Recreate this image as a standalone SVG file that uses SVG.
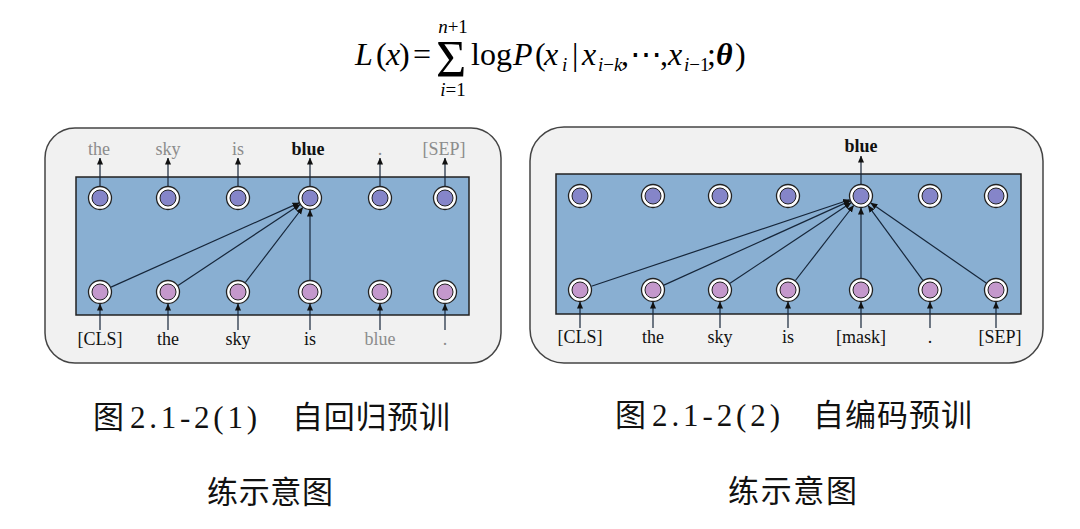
<svg xmlns="http://www.w3.org/2000/svg" width="1080" height="529" viewBox="0 0 1080 529">
<defs>
<marker id="ah" viewBox="0 0 8 8" refX="7.5" refY="4" markerWidth="7" markerHeight="7" markerUnits="userSpaceOnUse" orient="auto">
<path d="M0,0.5 L8,4 L0,7.5 Z" fill="#111"/>
</marker>
<style>
.panel{fill:#f1f1f1;stroke:#444;stroke-width:1.5}
.box{fill:#89afd2;stroke:#222;stroke-width:1.5}
.ring{fill:#fff;stroke:#222;stroke-width:1.3}
.top{fill:#8585c9;stroke:#222;stroke-width:1}
.bot{fill:#c498cc;stroke:#222;stroke-width:1}
.c{stroke:#16263a;stroke-width:1.2;fill:none;marker-end:url(#ah)}
.lab{font-family:"Liberation Serif",serif;font-size:18px;text-anchor:middle;fill:#111}
.g{fill:#8c8c8c}
.b{font-weight:bold}
.m text{font-family:"Liberation Serif",serif;fill:#000}
.f{font-size:32px}
.s{font-size:19px;font-style:italic}
.i{font-style:italic}
.cap{font-family:"Noto Sans CJK SC",sans-serif;font-size:31px;fill:#111}
.num{font-family:"Liberation Serif",serif;font-size:31px;fill:#111}
</style>
</defs>
<rect width="1080" height="529" fill="#fff"/>

<g id="formula" class="m">
<text class="f i" x="355" y="65">L</text>
<text class="f" x="376" y="65">(</text>
<text class="f i" x="386" y="65">x</text>
<text class="f" x="399" y="65">)</text>
<text class="f" x="413" y="65">=</text>
<text x="436" y="77" font-size="52">Σ</text>
<text class="s" x="453" y="33" font-size="17" text-anchor="middle">n<tspan font-style="normal">+1</tspan></text>
<text class="s" x="453" y="96" font-size="17" text-anchor="middle">i<tspan font-style="normal">=1</tspan></text>
<text class="f" x="471" y="65">log</text>
<text class="f i" x="513" y="65">P</text>
<text class="f" x="535" y="65">(</text>
<text class="f i" x="544" y="65">x</text>
<text class="s" x="562" y="71">i</text>
<text class="f" x="572" y="65">|</text>
<text class="f i" x="582" y="65">x</text>
<text class="s" x="598" y="71">i<tspan font-style="normal">−</tspan>k</text>
<text class="f" x="621" y="65">,</text>
<text class="f" x="630" y="65">⋯</text>
<text class="f" x="660" y="65">,</text>
<text class="f i" x="668" y="65">x</text>
<text class="s" x="684" y="71">i<tspan font-style="normal">−1</tspan></text>
<text class="f" x="707" y="65">;</text>
<text class="f i" x="716" y="65" font-weight="bold">θ</text>
<text class="f" x="735" y="65">)</text>
</g>

<g id="panel-left">
<rect class="panel" x="45" y="128" width="456" height="235" rx="30"/>
<rect class="box" x="76" y="177" width="393" height="138"/>
</g>

<g id="panel-right">
<rect class="panel" x="530" y="127" width="513" height="236" rx="34"/>
<rect class="box" x="556" y="174" width="465" height="140"/>
</g>

<g id="connectors">
<line class="c" x1="100" y1="186" x2="100" y2="158"/>
<line class="c" x1="168" y1="186" x2="168" y2="158"/>
<line class="c" x1="238" y1="186" x2="238" y2="158"/>
<line class="c" x1="310" y1="186" x2="310" y2="158"/>
<line class="c" x1="380" y1="186" x2="380" y2="158"/>
<line class="c" x1="445" y1="186" x2="445" y2="158"/>
<line class="c" x1="100" y1="330" x2="100" y2="304"/>
<line class="c" x1="168" y1="330" x2="168" y2="304"/>
<line class="c" x1="238" y1="330" x2="238" y2="304"/>
<line class="c" x1="310" y1="330" x2="310" y2="304"/>
<line class="c" x1="380" y1="330" x2="380" y2="304"/>
<line class="c" x1="445" y1="330" x2="445" y2="304"/>
<line class="c" x1="111" y1="287.1" x2="299.1" y2="202.9"/>
<line class="c" x1="178" y1="285.4" x2="300" y2="204.6"/>
<line class="c" x1="245.3" y1="282.5" x2="302.7" y2="207.5"/>
<line class="c" x1="310" y1="280" x2="310" y2="210"/>
<line class="c" x1="861" y1="184" x2="861" y2="156"/>
<line class="c" x1="580" y1="328" x2="580" y2="302"/>
<line class="c" x1="653" y1="328" x2="653" y2="302"/>
<line class="c" x1="720" y1="328" x2="720" y2="302"/>
<line class="c" x1="788" y1="328" x2="788" y2="302"/>
<line class="c" x1="861" y1="328" x2="861" y2="302"/>
<line class="c" x1="930" y1="328" x2="930" y2="302"/>
<line class="c" x1="996" y1="328" x2="996" y2="302"/>
<line class="c" x1="591.4" y1="286.2" x2="849.6" y2="199.8"/>
<line class="c" x1="663.9" y1="285.1" x2="850.1" y2="200.9"/>
<line class="c" x1="730" y1="283.3" x2="851" y2="202.7"/>
<line class="c" x1="795.4" y1="280.5" x2="853.6" y2="205.5"/>
<line class="c" x1="861" y1="278" x2="861" y2="208"/>
<line class="c" x1="922.9" y1="280.3" x2="868.1" y2="205.7"/>
<line class="c" x1="986.2" y1="283.1" x2="870.8" y2="202.9"/>
</g>

<g id="left-top-nodes">
<g id="lt1"><circle class="ring" cx="100" cy="198" r="11.5"/><circle class="top" cx="100" cy="198" r="8"/></g>
<g id="lt2"><circle class="ring" cx="168" cy="198" r="11.5"/><circle class="top" cx="168" cy="198" r="8"/></g>
<g id="lt3"><circle class="ring" cx="238" cy="198" r="11.5"/><circle class="top" cx="238" cy="198" r="8"/></g>
<g id="lt4"><circle class="ring" cx="310" cy="198" r="11.5"/><circle class="top" cx="310" cy="198" r="8"/></g>
<g id="lt5"><circle class="ring" cx="380" cy="198" r="11.5"/><circle class="top" cx="380" cy="198" r="8"/></g>
<g id="lt6"><circle class="ring" cx="445" cy="198" r="11.5"/><circle class="top" cx="445" cy="198" r="8"/></g>
</g>
<g id="left-bottom-nodes">
<g id="lb1"><circle class="ring" cx="100" cy="292" r="11.5"/><circle class="bot" cx="100" cy="292" r="8"/></g>
<g id="lb2"><circle class="ring" cx="168" cy="292" r="11.5"/><circle class="bot" cx="168" cy="292" r="8"/></g>
<g id="lb3"><circle class="ring" cx="238" cy="292" r="11.5"/><circle class="bot" cx="238" cy="292" r="8"/></g>
<g id="lb4"><circle class="ring" cx="310" cy="292" r="11.5"/><circle class="bot" cx="310" cy="292" r="8"/></g>
<g id="lb5"><circle class="ring" cx="380" cy="292" r="11.5"/><circle class="bot" cx="380" cy="292" r="8"/></g>
<g id="lb6"><circle class="ring" cx="445" cy="292" r="11.5"/><circle class="bot" cx="445" cy="292" r="8"/></g>
</g>

<g id="right-top-nodes">
<g id="rt1"><circle class="ring" cx="580" cy="196" r="11.5"/><circle class="top" cx="580" cy="196" r="8"/></g>
<g id="rt2"><circle class="ring" cx="653" cy="196" r="11.5"/><circle class="top" cx="653" cy="196" r="8"/></g>
<g id="rt3"><circle class="ring" cx="720" cy="196" r="11.5"/><circle class="top" cx="720" cy="196" r="8"/></g>
<g id="rt4"><circle class="ring" cx="788" cy="196" r="11.5"/><circle class="top" cx="788" cy="196" r="8"/></g>
<g id="rt5"><circle class="ring" cx="861" cy="196" r="11.5"/><circle class="top" cx="861" cy="196" r="8"/></g>
<g id="rt6"><circle class="ring" cx="930" cy="196" r="11.5"/><circle class="top" cx="930" cy="196" r="8"/></g>
<g id="rt7"><circle class="ring" cx="996" cy="196" r="11.5"/><circle class="top" cx="996" cy="196" r="8"/></g>
</g>
<g id="right-bottom-nodes">
<g id="rb1"><circle class="ring" cx="580" cy="290" r="11.5"/><circle class="bot" cx="580" cy="290" r="8"/></g>
<g id="rb2"><circle class="ring" cx="653" cy="290" r="11.5"/><circle class="bot" cx="653" cy="290" r="8"/></g>
<g id="rb3"><circle class="ring" cx="720" cy="290" r="11.5"/><circle class="bot" cx="720" cy="290" r="8"/></g>
<g id="rb4"><circle class="ring" cx="788" cy="290" r="11.5"/><circle class="bot" cx="788" cy="290" r="8"/></g>
<g id="rb5"><circle class="ring" cx="861" cy="290" r="11.5"/><circle class="bot" cx="861" cy="290" r="8"/></g>
<g id="rb6"><circle class="ring" cx="930" cy="290" r="11.5"/><circle class="bot" cx="930" cy="290" r="8"/></g>
<g id="rb7"><circle class="ring" cx="996" cy="290" r="11.5"/><circle class="bot" cx="996" cy="290" r="8"/></g>
</g>

<g id="left-labels" class="lab">
<text class="g" x="99" y="155">the</text>
<text class="g" x="168" y="155">sky</text>
<text class="g" x="238" y="155">is</text>
<text class="b" x="308" y="155">blue</text>
<text class="g" x="380" y="155">.</text>
<text class="g" x="444" y="155">[SEP]</text>
<text x="100" y="345">[CLS]</text>
<text x="168" y="345">the</text>
<text x="238" y="345">sky</text>
<text x="310" y="345">is</text>
<text class="g" x="380" y="345">blue</text>
<text class="g" x="445" y="345">.</text>
</g>

<g id="right-labels" class="lab">
<text class="b" x="861" y="152">blue</text>
<text x="580" y="343">[CLS]</text>
<text x="653" y="343">the</text>
<text x="720" y="343">sky</text>
<text x="788" y="343">is</text>
<text x="861" y="343">[mask]</text>
<text x="930" y="343">.</text>
<text x="1000" y="343">[SEP]</text>
</g>

<g id="caption-left">
<text class="cap" x="93" y="428">图</text>
<text class="num" x="130" y="428" textLength="127" lengthAdjust="spacing">2.1-2(1)</text>
<text class="cap" x="292" y="428" textLength="158" lengthAdjust="spacing">自回归预训</text>
<text class="cap" x="207" y="503" textLength="126" lengthAdjust="spacing">练示意图</text>
</g>
<g id="caption-right">
<text class="cap" x="615" y="426">图</text>
<text class="num" x="652" y="426" textLength="128" lengthAdjust="spacing">2.1-2(2)</text>
<text class="cap" x="813" y="426" textLength="159" lengthAdjust="spacing">自编码预训</text>
<text class="cap" x="728" y="502" textLength="129" lengthAdjust="spacing">练示意图</text>
</g>
</svg>
